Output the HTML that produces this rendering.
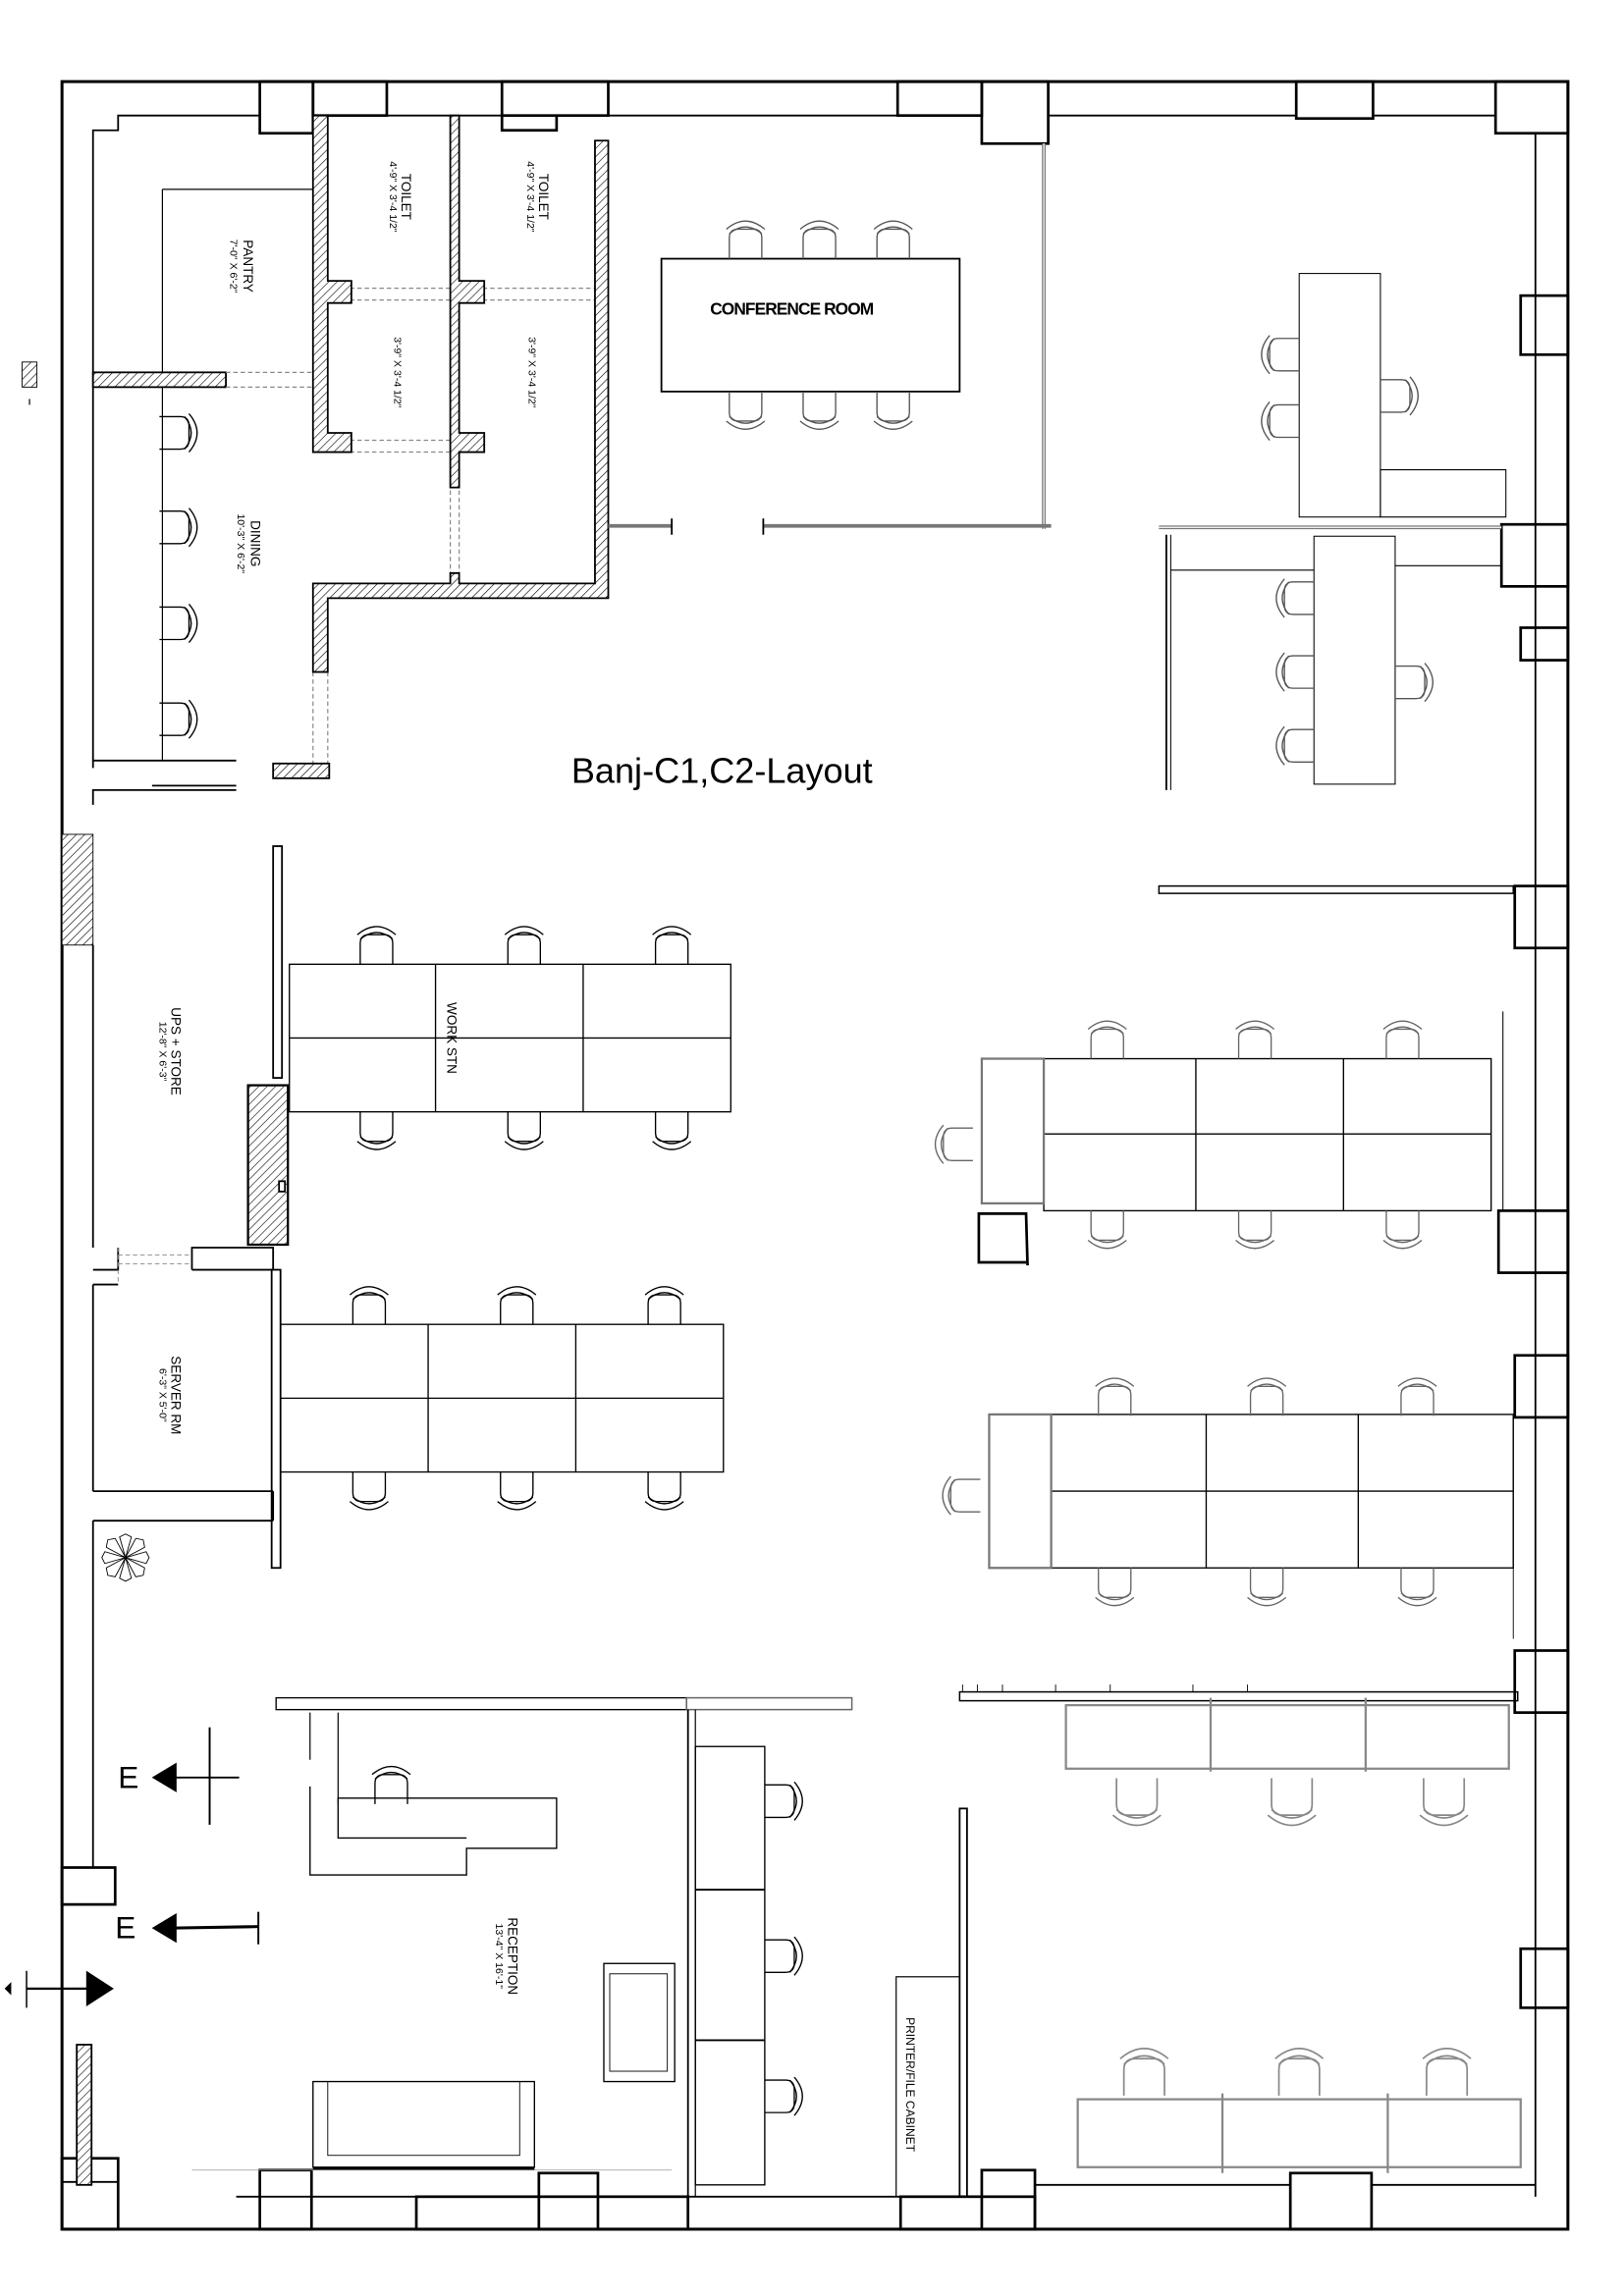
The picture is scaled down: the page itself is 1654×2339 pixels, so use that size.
<!DOCTYPE html>
<html><head><meta charset="utf-8"><style>
html,body{margin:0;padding:0;background:#fff;}
svg{display:block;}
text{font-family:"Liberation Sans",Arial,sans-serif;fill:#000;}
</style></head><body>
<svg width="1654" height="2339" viewBox="0 0 1100 1555" xmlns="http://www.w3.org/2000/svg">
<defs>
<pattern id="h" width="4" height="4" patternUnits="userSpaceOnUse" patternTransform="rotate(45)">
<rect width="4" height="4" fill="#fff"/><line x1="0" y1="0" x2="0" y2="4" stroke="#000" stroke-width="0.8"/></pattern>
<g id="ch" fill="none" stroke-width="0.9">
<path d="M-11,14 L-11,0 Q-11,-6 -5,-6 L5,-6 Q11,-6 11,0 L11,14"/>
<path d="M-13,-6 Q0,-17 13,-6 M-11,-3 Q0,-12 11,-3"/>
</g>
</defs>
<g fill="none" stroke="#000" stroke-width="1.2">
<rect x="42" y="55" width="1020" height="1455" stroke-width="2"/>
<polyline points="63,520 63,88 80,88 80,78 176,78"/>
<polyline points="262,78 340,78"/>
<polyline points="412,78 608,78 608,55"/>
<polyline points="710,78 878,78"/>
<polyline points="930,78 1013,78"/>
<line x1="1040" y1="90" x2="1040" y2="1488"/>
<polyline points="80,1488 80,1478 42,1478"/>
<line x1="160" y1="1488" x2="282" y2="1488"/>
<line x1="466" y1="1488" x2="610" y2="1488"/>
<line x1="701" y1="1480" x2="874" y2="1480"/>
<line x1="929" y1="1480" x2="1040" y2="1480"/>
<g stroke-width="1.8">
<rect x="176" y="55" width="36" height="35"/>
<rect x="212" y="55" width="50" height="23"/>
<rect x="340" y="55" width="72" height="23"/>
<polyline points="340,78 340,88 377,88 377,78"/>
<rect x="608" y="55" width="57" height="23"/>
<rect x="665" y="55" width="45" height="42"/>
<rect x="878" y="55" width="52" height="25"/>
<rect x="1013" y="55" width="49" height="35"/>
<rect x="1030" y="200" width="32" height="40"/>
<rect x="1017" y="355" width="45" height="42"/>
<rect x="1030" y="425" width="32" height="22"/>
<rect x="1026" y="600" width="36" height="42"/>
<rect x="1015" y="820" width="47" height="42"/>
<rect x="1026" y="918" width="36" height="42"/>
<rect x="1026" y="1118" width="36" height="42"/>
<rect x="1030" y="1320" width="32" height="40"/>
<rect x="42" y="1462" width="38" height="48"/>
<rect x="176" y="1470" width="35" height="40"/>
<rect x="282" y="1488" width="184" height="22"/>
<rect x="365" y="1472" width="40" height="38"/>
<rect x="610" y="1488" width="91" height="22"/>
<rect x="665" y="1470" width="36" height="40"/>
<rect x="874" y="1472" width="55" height="38"/>
<rect x="42" y="1265" width="36" height="25"/>
</g>
<line x1="63" y1="640" x2="63" y2="845"/>
<line x1="63" y1="870" x2="63" y2="1010"/>
<line x1="63" y1="1030" x2="63" y2="1265"/>
<line x1="42" y1="1290" x2="42" y2="1510"/>
<rect x="52" y="1385" width="10" height="95" fill="url(#h)"/>
<rect x="42" y="565" width="21" height="75" fill="url(#h)" stroke-width="0.6"/>
<rect x="15" y="245" width="10" height="17" fill="url(#h)" stroke-width="0.6"/>
<line x1="20" y1="270" x2="20" y2="274" stroke-width="0.8"/>

<polyline points="63,515 160,515"/>
<line x1="110" y1="128" x2="110" y2="515" stroke-width="0.8"/>
<line x1="110" y1="128" x2="212" y2="128" stroke-width="0.8"/>
<rect x="63" y="252" width="90" height="10" fill="url(#h)"/>
<g stroke="#888" stroke-width="0.8" stroke-dasharray="3,2">
<line x1="153" y1="252" x2="212" y2="252"/><line x1="153" y1="262" x2="212" y2="262"/>
<line x1="222" y1="195" x2="403" y2="195"/><line x1="222" y1="203" x2="403" y2="203"/>
<line x1="222" y1="298" x2="317" y2="298"/><line x1="222" y1="306" x2="317" y2="306"/>
<line x1="212" y1="455" x2="212" y2="525"/><line x1="222" y1="455" x2="222" y2="525"/>
<line x1="305" y1="307" x2="305" y2="390"/><line x1="311" y1="307" x2="311" y2="390"/>
</g>
<g fill="url(#h)">
<path d="M212,78 L222,78 L222,190 L238,190 L238,205 L222,205 L222,293 L238,293 L238,306 L212,306 Z"/>
<path d="M305,78 L311,78 L311,190 L328,190 L328,205 L311,205 L311,293 L328,293 L328,306 L311,306 L311,330 L305,330 Z"/>
<path d="M403,95 L412,95 L412,405 L222,405 L222,455 L212,455 L212,395 L305,395 L305,388 L311,388 L311,395 L403,395 Z"/>
<rect x="185" y="517" width="38" height="10"/>
</g>
<line x1="103" y1="532" x2="160" y2="532"/>
<polyline points="63,545 63,535 160,535" stroke-width="1.2"/>

<rect x="448" y="175" width="202" height="90"/>
<line x1="707" y1="97" x2="707" y2="358" stroke="#777" stroke-width="2.5"/>
<line x1="707" y1="97" x2="707" y2="358" stroke="#fff" stroke-width="0.8"/>
<line x1="412" y1="356" x2="455" y2="356" stroke="#777" stroke-width="2.5"/>
<line x1="517" y1="356" x2="712" y2="356" stroke="#777" stroke-width="2.5"/>
<line x1="455" y1="351" x2="455" y2="362"/><line x1="517" y1="351" x2="517" y2="362"/>

<g stroke-width="0.7">
<rect x="880" y="185" width="55" height="165"/>
<polygon points="935,318 1020,318 1020,350 935,350"/>
<line x1="785" y1="357" x2="1017" y2="357" stroke-width="2.5" stroke="#777"/>
<line x1="785" y1="357" x2="1017" y2="357" stroke="#fff" stroke-width="0.8"/>
<line x1="790" y1="362" x2="790" y2="535" stroke-width="1.2"/>
<line x1="793" y1="362" x2="793" y2="535"/>
<line x1="793" y1="386" x2="890" y2="386"/>
<rect x="890" y="363" width="55" height="168"/>
<line x1="945" y1="383" x2="1017" y2="383"/>
</g>
<rect x="785" y="600" width="240" height="5" stroke-width="1"/>

<rect x="185" y="573" width="6" height="157"/>
<rect x="168" y="735" width="27" height="108" fill="url(#h)" stroke-width="1.5"/>
<rect x="189" y="800" width="4" height="7" fill="#fff"/>
<polyline points="80,845 80,860 63,860"/>
<polyline points="130,860 130,845 185,845 185,860 130,860"/>
<line x1="63" y1="870" x2="80" y2="870"/>
<line x1="63" y1="1010" x2="185" y2="1010"/>
<line x1="63" y1="1030" x2="185" y2="1030"/>
<line x1="185" y1="1010" x2="185" y2="1030"/>
<rect x="184" y="860" width="6" height="202"/>
<line x1="80" y1="845" x2="80" y2="870" stroke="#888" stroke-dasharray="3,2" stroke-width="0.6"/>
<line x1="80" y1="850" x2="130" y2="850" stroke="#888" stroke-dasharray="3,2" stroke-width="0.6"/>
<line x1="80" y1="856" x2="130" y2="856" stroke="#888" stroke-dasharray="3,2" stroke-width="0.6"/>

<g stroke-width="0.9">
<rect x="196" y="653" width="299" height="100"/>
<line x1="295" y1="653" x2="295" y2="753"/><line x1="395" y1="653" x2="395" y2="753"/><line x1="196" y1="703" x2="495" y2="703"/>
<rect x="190" y="897" width="300" height="100"/>
<line x1="290" y1="897" x2="290" y2="997"/><line x1="390" y1="897" x2="390" y2="997"/><line x1="190" y1="947" x2="490" y2="947"/>
</g>
<g stroke-width="0.9">
<rect x="707" y="717" width="303" height="103"/>
<line x1="810" y1="717" x2="810" y2="820"/><line x1="910" y1="717" x2="910" y2="820"/><line x1="707" y1="768" x2="1010" y2="768"/>
<rect x="665" y="717" width="42" height="98" stroke="#777" stroke-width="1.5"/>
<line x1="1018" y1="685" x2="1018" y2="820" stroke-width="0.7"/>
<rect x="712" y="958" width="313" height="104"/>
<line x1="817" y1="958" x2="817" y2="1062"/><line x1="920" y1="958" x2="920" y2="1062"/><line x1="712" y1="1010" x2="1025" y2="1010"/>
<rect x="670" y="958" width="42" height="104" stroke="#777" stroke-width="1.5"/>
</g>
<polyline points="695,855 663,855 663,822 695,822 696,857" stroke-width="1.8"/>
<line x1="1025" y1="960" x2="1025" y2="1110" stroke-width="0.6"/>

<rect x="650" y="1146" width="378" height="6" stroke-width="1"/>
<g stroke-width="0.6"><line x1="652" y1="1141" x2="652" y2="1146"/><line x1="662" y1="1141" x2="662" y2="1146"/><line x1="679" y1="1141" x2="679" y2="1146"/><line x1="715" y1="1141" x2="715" y2="1146"/><line x1="752" y1="1141" x2="752" y2="1146"/><line x1="808" y1="1141" x2="808" y2="1146"/><line x1="845" y1="1141" x2="845" y2="1146"/></g>
<g stroke="#888" stroke-width="1.5">
<rect x="722" y="1155" width="300" height="43"/>
<line x1="820" y1="1150" x2="820" y2="1200"/><line x1="925" y1="1150" x2="925" y2="1200"/>
<rect x="730" y="1422" width="300" height="46"/>
<line x1="828" y1="1418" x2="828" y2="1472"/><line x1="940" y1="1418" x2="940" y2="1472"/>
</g>
<rect x="650" y="1225" width="5" height="263"/>
<rect x="607" y="1339" width="43" height="149" stroke-width="0.8"/>

<rect x="187" y="1150" width="278" height="8" stroke-width="0.9"/>
<rect x="465" y="1150" width="112" height="8" stroke="#666" stroke-width="1"/>
<line x1="466" y1="1158" x2="466" y2="1488"/><line x1="471" y1="1158" x2="471" y2="1488" stroke-width="0.8"/>
<line x1="210" y1="1160" x2="210" y2="1192" stroke-width="0.8"/>
<line x1="229" y1="1160" x2="229" y2="1222" stroke-width="0.8"/>
<polyline points="210,1210 210,1270 316,1270 316,1252 377,1252 377,1218 229,1218 229,1245 316,1245" stroke-width="0.9"/>
<rect x="471" y="1183" width="47" height="297" stroke-width="0.9"/>
<line x1="471" y1="1280" x2="518" y2="1280"/><line x1="471" y1="1382" x2="518" y2="1382"/>
<rect x="409" y="1330" width="48" height="80" stroke-width="0.9"/>
<rect x="413" y="1337" width="39" height="66" stroke-width="0.6"/>
<rect x="212" y="1410" width="150" height="58" stroke-width="0.9"/>
<rect x="222" y="1410" width="130" height="50" stroke-width="0.6"/>
<line x1="212" y1="1469" x2="362" y2="1469" stroke-width="2"/>
<line x1="130" y1="1470" x2="455" y2="1470" stroke="#999" stroke-width="0.5"/>

<line x1="142" y1="1170" x2="142" y2="1236" stroke-width="1.3"/>
<line x1="118" y1="1204" x2="162" y2="1204" stroke-width="1.3"/>
<polygon points="104,1204 119,1195 119,1213" fill="#000"/>
<line x1="118" y1="1306" x2="175" y2="1305" stroke-width="2"/>
<line x1="175" y1="1295" x2="175" y2="1317" stroke-width="1.3"/>
<polygon points="104,1306 119,1297 119,1315" fill="#000"/>
<line x1="18" y1="1347" x2="60" y2="1347" stroke-width="1.5"/>
<line x1="18" y1="1335" x2="18" y2="1360" stroke-width="1"/>
<polygon points="76,1347 59,1336 59,1358" fill="#000"/>
<polygon points="4,1347 7,1344 7,1350" fill="#000"/>
<g stroke-width="0.6" transform="translate(85,1055)">
<path d="M0,0 L-4,-14 L0,-16 L4,-14 Z M0,0 L-4,14 L0,16 L4,14 Z M0,0 L-14,-4 L-16,0 L-14,4 Z M0,0 L14,-4 L16,0 L14,4 Z"/>
<path d="M0,0 L-13,-7 L-12,-12 L-7,-13 Z M0,0 L13,7 L12,12 L7,13 Z M0,0 L13,-7 L12,-12 L7,-13 Z M0,0 L-13,7 L-12,12 L-7,13 Z"/>
</g>
</g>

<g stroke="#000">
<use href="#ch" transform="translate(122,293) rotate(90)"/>
<use href="#ch" transform="translate(122,357) rotate(90)"/>
<use href="#ch" transform="translate(122,422) rotate(90)"/>
<use href="#ch" transform="translate(122,487) rotate(90)"/>
</g>
<g stroke="#555">
<use href="#ch" transform="translate(505,161)"/><use href="#ch" transform="translate(555,161)"/><use href="#ch" transform="translate(605,161)"/>
<use href="#ch" transform="translate(505,279) rotate(180)"/><use href="#ch" transform="translate(555,279) rotate(180)"/><use href="#ch" transform="translate(605,279) rotate(180)"/>
<use href="#ch" transform="translate(866,240) rotate(-90)"/><use href="#ch" transform="translate(866,285) rotate(-90)"/>
<use href="#ch" transform="translate(949,268) rotate(90)"/>
<use href="#ch" transform="translate(876,405) rotate(-90)"/><use href="#ch" transform="translate(876,455) rotate(-90)"/><use href="#ch" transform="translate(876,505) rotate(-90)"/>
<use href="#ch" transform="translate(959,462) rotate(90)"/>
</g>
<g stroke="#000">
<use href="#ch" transform="translate(255,639)"/><use href="#ch" transform="translate(355,639)"/><use href="#ch" transform="translate(455,639)"/>
<use href="#ch" transform="translate(255,767) rotate(180)"/><use href="#ch" transform="translate(355,767) rotate(180)"/><use href="#ch" transform="translate(455,767) rotate(180)"/>
<use href="#ch" transform="translate(250,883)"/><use href="#ch" transform="translate(350,883)"/><use href="#ch" transform="translate(450,883)"/>
<use href="#ch" transform="translate(250,1011) rotate(180)"/><use href="#ch" transform="translate(350,1011) rotate(180)"/><use href="#ch" transform="translate(450,1011) rotate(180)"/>
<use href="#ch" transform="translate(265,1208)"/>
<use href="#ch" transform="translate(532,1220) rotate(90)"/><use href="#ch" transform="translate(532,1325) rotate(90)"/><use href="#ch" transform="translate(532,1420) rotate(90)"/>
</g>
<g stroke="#666">
<use href="#ch" transform="translate(750,703)"/><use href="#ch" transform="translate(850,703)"/><use href="#ch" transform="translate(950,703)"/>
<use href="#ch" transform="translate(750,834) rotate(180)"/><use href="#ch" transform="translate(850,834) rotate(180)"/><use href="#ch" transform="translate(950,834) rotate(180)"/>
<use href="#ch" transform="translate(645,775) rotate(-90)"/>
<use href="#ch" transform="translate(755,945)"/><use href="#ch" transform="translate(858,945)"/><use href="#ch" transform="translate(960,945)"/>
<use href="#ch" transform="translate(755,1076) rotate(180)"/><use href="#ch" transform="translate(858,1076) rotate(180)"/><use href="#ch" transform="translate(960,1076) rotate(180)"/>
<use href="#ch" transform="translate(650,1013) rotate(-90)"/>
</g>
<g stroke="#888">
<use href="#ch" transform="translate(770,1222) rotate(180) scale(1.25)"/><use href="#ch" transform="translate(875,1222) rotate(180) scale(1.25)"/><use href="#ch" transform="translate(978,1222) rotate(180) scale(1.25)"/>
<use href="#ch" transform="translate(775,1402) scale(1.25)"/><use href="#ch" transform="translate(880,1402) scale(1.25)"/><use href="#ch" transform="translate(980,1402) scale(1.25)"/>
</g>

<text x="489" y="530" font-size="24" text-anchor="middle">Banj-C1,C2-Layout</text>
<text x="481" y="213" font-size="11.5" font-weight="bold" letter-spacing="-0.6">CONFERENCE ROOM</text>
<text x="80" y="1211" font-size="21">E</text>
<text x="78" y="1313" font-size="21">E</text>
<g font-size="9">
<text transform="translate(165,180) rotate(90)" text-anchor="middle">PANTRY</text>
<text transform="translate(156,180) rotate(90)" text-anchor="middle" font-size="7">7'-0" X 6'-2"</text>
<text transform="translate(272,133) rotate(90)" text-anchor="middle">TOILET</text>
<text transform="translate(264,133) rotate(90)" text-anchor="middle" font-size="7">4'-9" X 3'-4 1/2"</text>
<text transform="translate(365,133) rotate(90)" text-anchor="middle">TOILET</text>
<text transform="translate(357,133) rotate(90)" text-anchor="middle" font-size="7">4'-9" X 3'-4 1/2"</text>
<text transform="translate(267,252) rotate(90)" text-anchor="middle" font-size="7">3'-9" X 3'-4 1/2"</text>
<text transform="translate(358,252) rotate(90)" text-anchor="middle" font-size="7">3'-9" X 3'-4 1/2"</text>
<text transform="translate(170,368) rotate(90)" text-anchor="middle">DINING</text>
<text transform="translate(161,368) rotate(90)" text-anchor="middle" font-size="7">10'-3" X 6'-2"</text>
<text transform="translate(116,712) rotate(90)" text-anchor="middle">UPS + STORE</text>
<text transform="translate(108,712) rotate(90)" text-anchor="middle" font-size="7">12'-8" X 6'-3"</text>
<text transform="translate(303,703) rotate(90)" text-anchor="middle">WORK STN</text>
<text transform="translate(116,945) rotate(90)" text-anchor="middle">SERVER RM</text>
<text transform="translate(108,945) rotate(90)" text-anchor="middle" font-size="7">6'-3" X 5'-0"</text>
<text transform="translate(344,1325) rotate(90)" text-anchor="middle">RECEPTION</text>
<text transform="translate(336,1325) rotate(90)" text-anchor="middle" font-size="7">13'-4" X 16'-1"</text>
<text transform="translate(614,1412) rotate(90)" text-anchor="middle" font-size="8">PRINTER/FILE CABINET</text>
</g>
</svg>
</body></html>
